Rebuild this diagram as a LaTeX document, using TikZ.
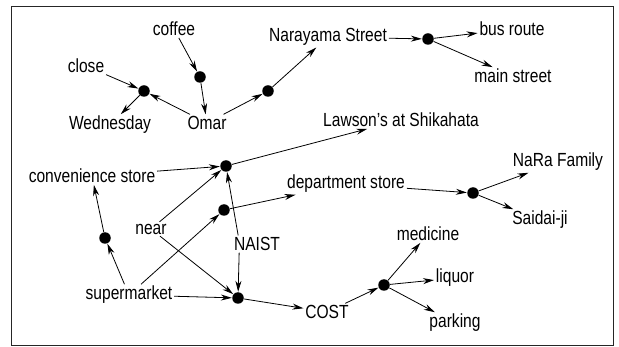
\documentclass[tikz,border=0pt]{standalone}
\usepackage{fontspec}
\setmainfont[FakeStretch=0.82]{Liberation Sans}
\usetikzlibrary{arrows.meta}
\begin{document}
\begin{tikzpicture}
          [x=1pt,y=-1pt,line width=0.8pt,>={Stealth[length=11pt,width=6pt]},
           every node/.style={font=\fontsize{19}{21}\selectfont, inner sep=1.5pt},
           dot/.style={circle, fill, inner sep=0pt, minimum size=11.5pt}]
        \useasboundingbox (0,0) rectangle (619,347);
        \draw[black!85] (11,6) rectangle (613,345);

        \node (coffee) at (174,29) {coffee};
        \node (close) at (86,66) {close};
        \node (wed) at (110,125) {Wednesday};
        \node (omar) at (207,123) {Omar};
        \node (narayama) at (328,37) {Narayama Street};
        \node (bus) at (512,29) {bus route};
        \node (main) at (513,76) {main street};
        \node (lawson) at (401,120) {Lawson's at Shikahata};
        \node (conv) at (92,176) {convenience store};
        \node (nara) at (558,162) {NaRa Family};
        \node (dept) at (346,184) {department store};
        \node (saidai) at (540,220) {Saidai-ji};
        \node (near) at (151,229) {near};
        \node (naist) at (257,244) {NAIST};
        \node (super) at (129,295) {supermarket};
        \node (medicine) at (428,234) {medicine};
        \node (liquor) at (455,278) {liquor};
        \node (cost) at (327,312) {COST};
        \node (parking) at (455,323) {parking};

        \node[dot] (dcoffee) at (200,77) {};
        \node[dot] (dclose) at (144,91) {};
        \node[dot] (domar) at (268,91) {};
        \node[dot] (dbus) at (428,39) {};
        \node[dot] (dconv) at (226,166) {};
        \node[dot] (ddept) at (224,210) {};
        \node[dot] (dsuper) at (105,238) {};
        \node[dot] (dcost) at (238,298) {};
        \node[dot] (dnara) at (473,193) {};
        \node[dot] (dcost2) at (384,285) {};

        \foreach \from/\to in {coffee/dcoffee, dcoffee/omar, close/dclose, omar/dclose,
            dclose/wed, omar/domar, domar/narayama, narayama/dbus, dbus/bus, dbus/main,
            conv/dconv, near/dconv, dconv/lawson, ddept/dept, super/ddept,
            dept/dnara, dnara/nara, dnara/saidai, near/dcost, super/dcost,
            dcost/cost, super/dsuper, dsuper/conv, cost/dcost2,
            dcost2/medicine, dcost2/liquor, dcost2/parking}
          \draw[->] (\from) -- (\to);
        \draw[->] ([xshift=6pt]naist.north west) -- (dconv);
        \draw[->] ([xshift=7pt]naist.south west) -- (dcost);
      \end{tikzpicture}
\end{document}
